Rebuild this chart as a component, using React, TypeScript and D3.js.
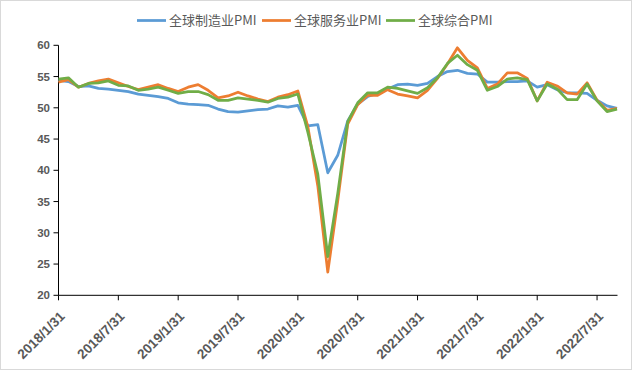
import React from "react";
import * as d3 from "d3";

const seriesNames = ["全球制造业PMI", "全球服务业PMI", "全球综合PMI"];
const seriesColors = ["#5B9BD5", "#ED7D31", "#70AD47"];

// Monthly data 2018/1 .. 2022/9
const manufacturing = [
  54.4, 54.2, 53.4, 53.5, 53.1, 53.0, 52.8, 52.6, 52.2, 52.0, 51.8, 51.5,
  50.8, 50.6, 50.5, 50.4, 49.8, 49.4, 49.3, 49.5, 49.7, 49.8, 50.3, 50.1,
  50.4, 47.1, 47.3, 39.6, 42.4, 47.9, 50.6, 51.8, 52.3, 53.0, 53.7, 53.8,
  53.6, 53.9, 55.0, 55.8, 56.0, 55.5, 55.4, 54.1, 54.1, 54.2, 54.2, 54.3,
  53.3, 53.7, 52.9, 52.4, 52.4, 52.3, 51.2, 50.3, 49.9,
];
const services = [
  54.1, 54.5, 53.3, 53.9, 54.3, 54.6, 54.0, 53.4, 52.9, 53.3, 53.7, 53.1,
  52.6, 53.3, 53.7, 52.8, 51.6, 51.9, 52.5, 51.9, 51.4, 51.0, 51.7, 52.1,
  52.7, 47.0, 37.5, 23.7, 35.1, 47.4, 50.5, 52.0, 52.0, 52.9, 52.2, 51.9,
  51.6, 52.8, 54.7, 57.0, 59.6, 57.6, 56.4, 53.1, 53.8, 55.6, 55.6, 54.7,
  51.1, 54.1, 53.5, 52.4, 52.2, 54.0, 51.2, 49.6, 49.9,
];
const composite = [
  54.6, 54.8, 53.3, 53.9, 54.0, 54.3, 53.6, 53.5, 52.8, 53.0, 53.3, 52.8,
  52.3, 52.6, 52.6, 52.1, 51.2, 51.2, 51.6, 51.4, 51.2, 50.9, 51.5, 51.7,
  52.2, 46.1, 39.4, 26.2, 36.3, 47.8, 50.8, 52.4, 52.4, 53.3, 53.1, 52.7,
  52.3, 53.2, 54.8, 57.1, 58.4, 56.9, 56.0, 52.8, 53.4, 54.6, 54.8, 54.5,
  51.1, 53.8, 53.0, 51.3, 51.3, 53.8, 51.1, 49.4, 49.8,
];

const yTicks = [20, 25, 30, 35, 40, 45, 50, 55, 60];

// month-end date labels
const dates: string[] = [];
for (let y = 2018; y <= 2022; y++) {
  for (let m = 1; m <= 12; m++) {
    if (y === 2022 && m > 9) break;
    const last = new Date(y, m, 0).getDate();
    dates.push(`${y}/${m}/${last}`);
  }
}
const xTickLabels = dates.filter((_, i) => i % 6 === 0);

const W = 632;
const H = 370;

export default function App() {
  const x = d3.scalePoint<string>().domain(dates).range([58.5, 617]);
  const y = d3.scaleLinear().domain([20, 60]).range([295.3, 45.3]);
  const all = [manufacturing, services, composite];
  const line = d3
    .line<number>()
    .x((_, i) => x(dates[i]) as number)
    .y((d) => y(d));

  const legendX = [137, 262, 386];

  return (
    <svg
      width={W}
      height={H}
      style={{ position: "absolute", left: 0, top: 0, background: "#fff" }}
    >
      <rect x={0.5} y={0.5} width={W - 1} height={H - 1} fill="#fff" stroke="#d9d9d9" />
      {/* legend */}
      {seriesNames.map((n, i) => (
        <g key={n} transform={`translate(${legendX[i]},20.5)`}>
          <line x1={0} x2={29} y1={0} y2={0} stroke={seriesColors[i]} strokeWidth={2.75} />
          <text
            x={32}
            y={0}
            dy="0.36em"
            fontSize={13}
            fill="#595959"
            fontFamily="'Noto Sans CJK SC', 'Noto Sans', sans-serif"
          >
            {n}
          </text>
        </g>
      ))}
      {/* y axis */}
      <line x1={58.5} x2={58.5} y1={y(60)} y2={y(20)} stroke="#000" />
      {yTicks.map((t) => (
        <g key={t}>
          <line x1={53.5} x2={58.5} y1={y(t)} y2={y(t)} stroke="#000" />
          <text
            x={50}
            y={y(t)}
            dy="0.35em"
            textAnchor="end"
            fontSize={11.5}
            fontWeight="bold"
            fill="#595959"
            fontFamily="'Liberation Sans', Arial, sans-serif"
          >
            {t}
          </text>
        </g>
      ))}
      {/* x axis */}
      <line x1={58.5} x2={617.5} y1={y(20)} y2={y(20)} stroke="#000" />
      {xTickLabels.map((d) => {
        const px = x(d) as number;
        return (
          <g key={d}>
            <line x1={px} x2={px} y1={y(20)} y2={y(20) + 5} stroke="#000" />
            <text
              transform={`translate(${px + 7},${y(20) + 22}) rotate(-45)`}
              textAnchor="end"
              fontSize={13.5}
              fontWeight="bold"
              fill="#595959"
              fontFamily="'Liberation Sans', Arial, sans-serif"
            >
              {d}
            </text>
          </g>
        );
      })}
      {/* series */}
      {all.map((s, i) => (
        <path
          key={i}
          d={line(s) || ""}
          fill="none"
          stroke={seriesColors[i]}
          strokeWidth={2.75}
          strokeLinejoin="round"
        />
      ))}
    </svg>
  );
}
